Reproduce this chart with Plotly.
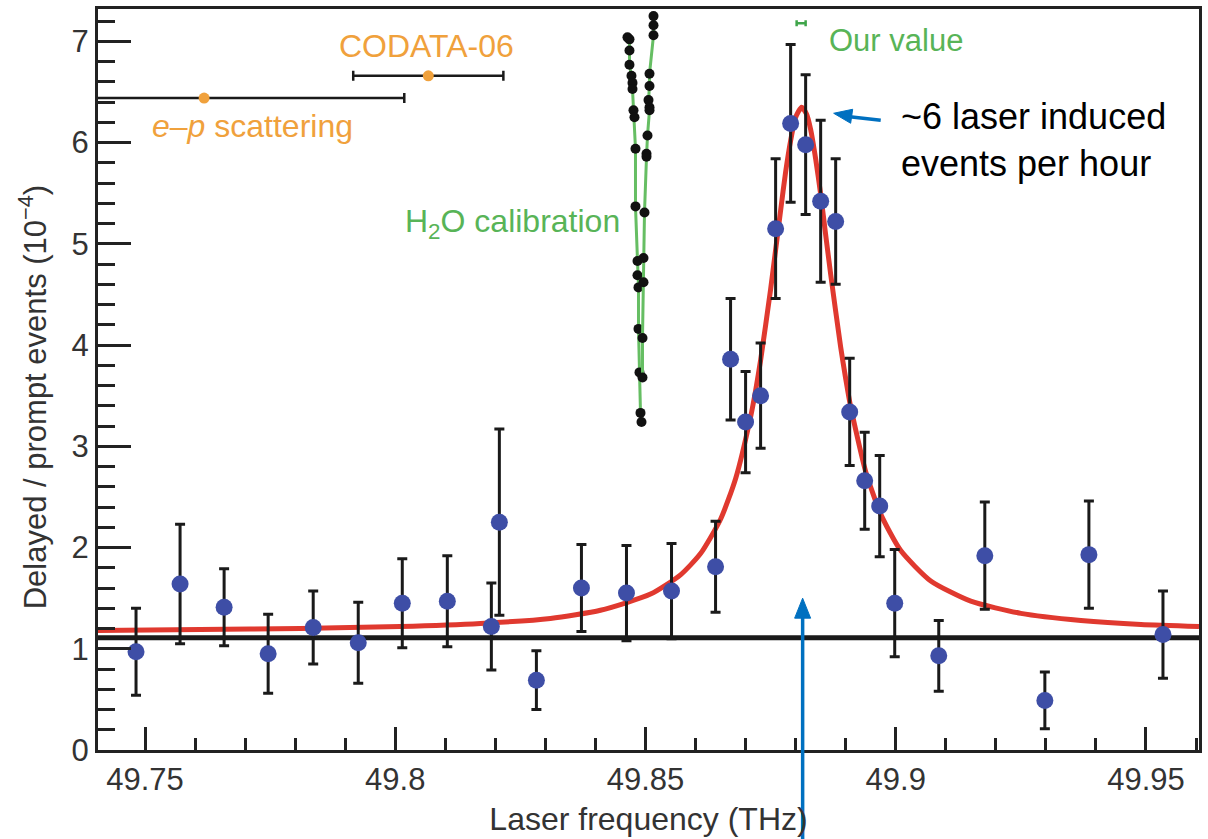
import plotly.graph_objects as go

# ---------------- data ----------------
freq = [49.7482, 49.7570, 49.7658, 49.7746, 49.7836, 49.7926, 49.8014, 49.8104,
        49.8192, 49.8208, 49.8282, 49.8372, 49.8462, 49.8552, 49.8640, 49.8670,
        49.8700, 49.8730, 49.8760, 49.8790, 49.8820, 49.8850, 49.8880, 49.8908,
        49.8938, 49.8968, 49.8998, 49.9086, 49.9178, 49.9298, 49.9386, 49.9534]
ratio = [0.97, 1.64, 1.41, 0.95, 1.21, 1.06, 1.45, 1.47,
         1.22, 2.25, 0.69, 1.60, 1.55, 1.57, 1.81, 3.86,
         3.24, 3.50, 5.15, 6.19, 5.98, 5.42, 5.22, 3.34,
         2.66, 2.41, 1.45, 0.93, 1.92, 0.49, 1.93, 1.14]
ratio_err = [0.43, 0.59, 0.38, 0.39, 0.36, 0.40, 0.44, 0.45,
             0.43, 0.92, 0.29, 0.43, 0.47, 0.47, 0.45, 0.60,
             0.50, 0.52, 0.69, 0.78, 0.69, 0.80, 0.62, 0.53,
             0.48, 0.50, 0.53, 0.35, 0.53, 0.28, 0.53, 0.43]

# fitted resonance curve
fit_x = [49.7406, 49.761, 49.781, 49.801, 49.817, 49.831, 49.841, 49.851, 49.857,
         49.861, 49.865, 49.868, 49.871, 49.872, 49.873, 49.875, 49.876, 49.877,
         49.878, 49.879, 49.880, 49.8812, 49.8822, 49.883, 49.884, 49.885, 49.886,
         49.887, 49.889, 49.890, 49.891, 49.894, 49.897, 49.901, 49.907, 49.915,
         49.925, 49.937, 49.949, 49.9606]
fit_y = [1.18, 1.19, 1.20, 1.22, 1.25, 1.30, 1.38, 1.54, 1.73,
         1.94, 2.28, 2.68, 3.29, 3.55, 3.85, 4.55, 4.94, 5.33,
         5.71, 6.02, 6.25, 6.35, 6.28, 6.13, 5.84, 5.49, 5.09,
         4.70, 3.98, 3.67, 3.39, 2.75, 2.33, 1.97, 1.67, 1.47,
         1.35, 1.28, 1.24, 1.22]

background_level = 1.11

# H2O calibration scans (two strands)
h2o_a_x = [49.8464, 49.8468, 49.8468, 49.8468, 49.8472, 49.8474, 49.8474, 49.8476, 49.8478,
           49.8480, 49.8480, 49.8484, 49.8484, 49.8486, 49.8486, 49.8488, 49.8490, 49.8492]
h2o_a_y = [7.04, 7.02, 6.91, 6.77, 6.66, 6.59, 6.53, 6.32, 6.25,
           5.94, 5.37, 4.83, 4.69, 4.57, 4.16, 3.73, 3.33, 3.24]
h2o_b_x = [49.8516, 49.8516, 49.8516, 49.8508, 49.8508, 49.8506, 49.8508, 49.8508,
           49.8504, 49.8502, 49.8502, 49.8498, 49.8496, 49.8496, 49.8494, 49.8494]
h2o_b_y = [7.25, 7.16, 7.06, 6.68, 6.56, 6.42, 6.35, 6.32,
           6.07, 5.89, 5.86, 5.31, 4.86, 4.62, 4.07, 3.68]

# previous determinations
ep_x, ep_y, ep_err = [49.7618], [6.44], [0.040]
codata_x, codata_y, codata_err = [49.8066], [6.66], [0.015]
our_x, our_y, our_err = [49.8811], [7.18], [0.0009]

x_ticks = [49.75, 49.80, 49.85, 49.90, 49.95]
x_tick_labels = ["49.75", "49.8", "49.85", "49.9", "49.95"]
y_ticks = [0, 1, 2, 3, 4, 5, 6, 7]

X_RANGE = [49.7406, 49.9606]
Y_RANGE = [0, 7.32]

# ---------------- styles ----------------
FONT = "Liberation Sans, Arial, Helvetica, sans-serif"
BLUE = "#3E4EA6"
RED = "#E0392F"
ORANGE = "#F0A13C"
GREEN = "#58B457"
ARROW = "#0070C0"
AX = "#222222"

fig = go.Figure()

fig.add_trace(go.Scatter(x=fit_x, y=fit_y, mode="lines",
                         line=dict(color=RED, width=5, shape="spline", smoothing=0.6),
                         hoverinfo="skip", showlegend=False))

for hx, hy in [(h2o_a_x, h2o_a_y), (h2o_b_x, h2o_b_y)]:
    fig.add_trace(go.Scatter(x=hx, y=hy, mode="lines+markers",
                             line=dict(color="#66BE63", width=3),
                             marker=dict(color="#111111", size=10),
                             showlegend=False))

fig.add_trace(go.Scatter(x=freq, y=ratio, mode="markers",
                         marker=dict(color=BLUE, size=17),
                         error_y=dict(type="data", array=ratio_err, color="#1a1a1a",
                                      thickness=3, width=5),
                         showlegend=False))

for xs, ys, es in [(ep_x, ep_y, ep_err), (codata_x, codata_y, codata_err)]:
    fig.add_trace(go.Scatter(x=xs, y=ys, mode="markers",
                             marker=dict(color=ORANGE, size=11),
                             error_x=dict(type="data", array=es, color="#1a1a1a",
                                          thickness=2.5, width=5),
                             showlegend=False))

fig.add_trace(go.Scatter(x=our_x, y=our_y, mode="markers",
                         marker=dict(color=GREEN, size=1, opacity=0),
                         error_x=dict(type="data", array=our_err, color="#3FA54A",
                                      thickness=2.5, width=3),
                         showlegend=False))

fig.add_shape(type="line", xref="x domain", yref="y", x0=0, x1=1,
              y0=background_level, y1=background_level,
              line=dict(color="#1a1a1a", width=5), layer="below")

# ---------------- text labels ----------------
ann = [
    dict(x=49.8063, y=6.95, text="CODATA-06", font=dict(color=ORANGE, size=32)),
    dict(x=49.7714, y=6.16, text="<i>e</i>–<i>p</i> scattering", font=dict(color=ORANGE, size=32)),
    dict(x=49.8234, y=5.20, text="H<sub>2</sub>O calibration", font=dict(color=GREEN, size=32)),
    dict(x=49.8862, y=7.01, text="Our value", xanchor="left", font=dict(color=GREEN, size=31)),
    dict(x=49.9006, y=6.03, text="~6 laser induced<br>events per hour", xanchor="left", align="left",
         font=dict(color="#000000", size=36)),
]
for a in ann:
    a.setdefault("xanchor", "center")
    fig.add_annotation(xref="x", yref="y", showarrow=False, yanchor="middle",
                       font_family=FONT, **a)

# y-axis title (placed slightly below the axis centre, as in the original)
fig.add_annotation(xref="paper", yref="paper", x=-0.059, y=0.476,
                   text="Delayed / prompt events (10<sup>−4</sup>)", textangle=-90,
                   showarrow=False, xanchor="center", yanchor="middle",
                   font=dict(family=FONT, size=31, color="#333333"))

# ---------------- blue arrows (shapes) ----------------
def xp(v):
    return (v - X_RANGE[0]) / (X_RANGE[1] - X_RANGE[0])

def yp(v):
    return (v - Y_RANGE[0]) / (Y_RANGE[1] - Y_RANGE[0])

# arrow pointing at the peak label
tip1 = (49.8876, 6.29)
tail1 = (49.8970, 6.22)
fig.add_shape(type="line", xref="x", yref="y", x0=tail1[0], y0=tail1[1],
              x1=49.8908, y1=6.255, line=dict(color=ARROW, width=3.5))
fig.add_shape(type="path", xref="x", yref="y", xsizemode="pixel", ysizemode="pixel",
              xanchor=tip1[0], yanchor=tip1[1],
              path="M 0 0 L 19 4 L 17 -10 Z",
              fillcolor=ARROW, line=dict(color=ARROW, width=1))

# vertical arrow from below the axis to the resonance
tip2 = (49.8814, 1.50)
fig.add_shape(type="line", xref="paper", yref="paper", x0=xp(tip2[0]), x1=xp(tip2[0]),
              y0=-0.125, y1=yp(tip2[1]) - 0.02, line=dict(color=ARROW, width=3.5))
fig.add_shape(type="path", xref="x", yref="y", xsizemode="pixel", ysizemode="pixel",
              xanchor=tip2[0], yanchor=tip2[1],
              path="M 0 0 L -8 -20 L 8 -20 Z",
              fillcolor=ARROW, line=dict(color=ARROW, width=1))

fig.update_layout(
    width=1208, height=839,
    margin=dict(l=98, r=9, t=6, b=89),
    paper_bgcolor="white", plot_bgcolor="white",
    font=dict(family=FONT, color="#333333"),
    xaxis=dict(range=X_RANGE, tickmode="array", tickvals=x_ticks,
               ticktext=x_tick_labels, ticks="inside", ticklen=23, tickwidth=3,
               tickcolor=AX, showline=True, linewidth=3, linecolor=AX, mirror=True,
               showgrid=False, zeroline=False, tickfont=dict(size=31, color="#333333"),
               minor=dict(dtick=0.01, tick0=49.75, ticks="inside", ticklen=12,
                          tickwidth=3, tickcolor=AX, showgrid=False),
               title=dict(text="Laser frequency (THz)", font=dict(size=32, color="#333333"),
                          standoff=12)),
    yaxis=dict(range=Y_RANGE, tickmode="array", tickvals=y_ticks,
               ticks="inside", ticklen=33, tickwidth=3, tickcolor=AX,
               showline=True, linewidth=3, linecolor=AX, mirror=True,
               showgrid=False, zeroline=False, tickfont=dict(size=31, color="#333333"),
               minor=dict(dtick=0.2, tick0=0, ticks="inside", ticklen=17,
                          tickwidth=3, tickcolor=AX, showgrid=False)),
)

fig.write_html("out.html")
